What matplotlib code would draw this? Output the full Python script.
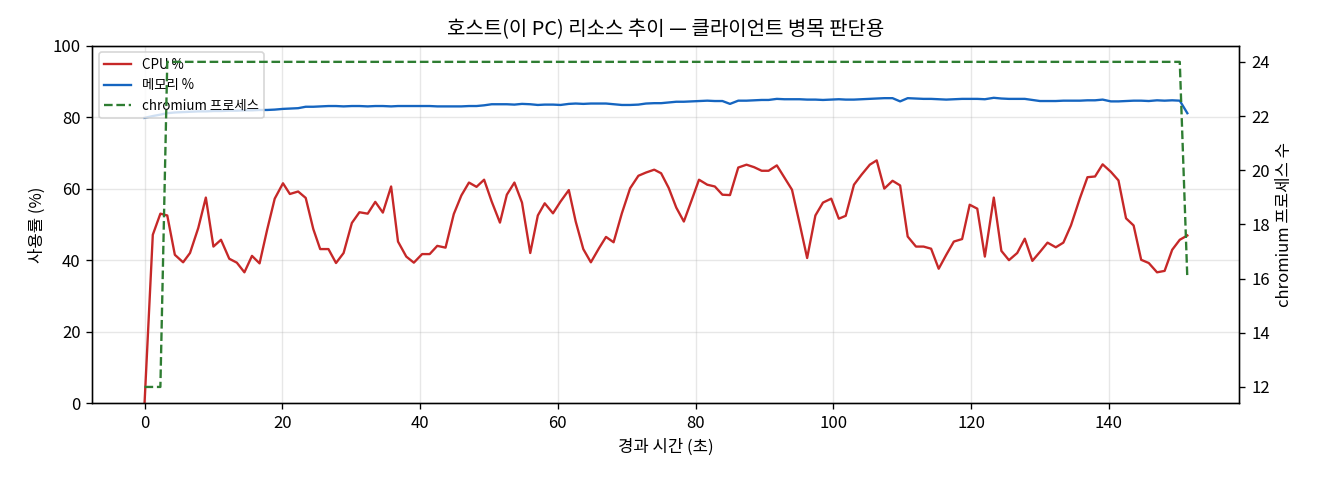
import matplotlib
matplotlib.use("Agg")
import matplotlib.pyplot as plt

plt.rcParams['font.family'] = ['Noto Sans CJK KR', 'DejaVu Sans']
plt.rcParams['axes.unicode_minus'] = False

elapsed_s = [
    0.0, 1.2, 2.3, 3.3, 4.4, 5.6, 6.6, 7.8, 8.9, 10.0,
    11.1, 12.3, 13.4, 14.5, 15.6, 16.7, 17.8, 18.9, 20.1, 21.1,
    22.3, 23.4, 24.5, 25.5, 26.7, 27.8, 28.9, 30.1, 31.2, 32.4,
    33.5, 34.6, 35.8, 36.8, 38.0, 39.1, 40.3, 41.4, 42.5, 43.7,
    44.9, 46.0, 47.1, 48.2, 49.3, 50.4, 51.6, 52.6, 53.7, 54.8,
    56.0, 57.1, 58.1, 59.3, 60.4, 61.6, 62.6, 63.7, 64.8, 66.0,
    67.0, 68.1, 69.3, 70.5, 71.7, 72.8,
    74.0, 75.0, 76.1, 77.2, 78.3, 79.4, 80.5, 81.7, 82.8, 83.9,
    85.0, 86.2, 87.4, 88.5, 89.6, 90.6, 91.8, 92.9, 94.0, 95.1,
    96.2, 97.4, 98.5, 99.7, 100.8, 101.8, 103.0, 104.1, 105.3, 106.3,
    107.4, 108.6, 109.7, 110.8, 112.0, 113.1, 114.2, 115.3, 116.4, 117.5,
    118.7, 119.8, 120.9, 122.0, 123.3, 124.4, 125.5, 126.7, 127.8, 128.9,
    130.0, 131.1, 132.3, 133.4, 134.5, 135.8, 136.9, 138.0, 139.1, 140.3,
    141.4, 142.5, 143.6, 144.7, 145.8, 147.0, 148.1, 149.2, 150.3, 151.4,
]

cpu_pct = [
    0.0, 47.1, 53.0, 52.5, 41.5, 39.4, 42.0, 49.0, 57.5, 43.8,
    45.7, 40.4, 39.3, 36.6, 41.2, 39.1, 48.5, 57.2, 61.5, 58.5,
    59.2, 57.4, 48.7, 43.1, 43.1, 39.2, 42.0, 50.4, 53.4, 53.0,
    56.3, 53.3, 60.6, 45.2, 41.0, 39.3, 41.7, 41.7, 44.0, 43.5,
    52.9, 58.1, 61.7, 60.5, 62.5, 56.4, 50.5, 58.3, 61.7, 56.1,
    42.0, 52.5, 55.9, 53.1, 56.4, 59.6, 50.8, 43.1, 39.4, 43.4,
    46.5, 45.0, 53.1, 60.1, 63.6, 64.5,
    65.3, 64.3, 60.2, 54.7, 50.8, 56.6, 62.5, 61.1, 60.6, 58.3,
    58.2, 65.9, 66.7, 66.0, 65.0, 65.0, 66.5, 63.1, 59.7, 50.3,
    40.6, 52.5, 56.1, 57.2, 51.6, 52.4, 61.1, 63.9, 66.7, 67.9,
    60.0, 62.2, 60.9, 46.6, 43.8, 43.8, 43.2, 37.6, 41.5, 45.2,
    45.9, 55.5, 54.4, 41.0, 57.5, 42.6, 40.0, 42.0, 46.0, 39.8,
    42.3, 44.9, 43.6, 44.9, 49.7, 57.3, 63.2, 63.4, 66.8, 64.7,
    62.3, 51.7, 49.7, 40.1, 39.2, 36.6, 37.0, 42.9, 45.7, 46.9,
]

mem_pct = [
    79.8, 80.3, 80.7, 81.1, 81.3, 81.4, 81.5, 81.6, 81.6, 81.7,
    81.7, 81.8, 81.8, 81.9, 81.9, 82.0, 82.0, 82.1, 82.3, 82.4,
    82.5, 82.9, 82.9, 83.0, 83.1, 83.1, 83.0, 83.1, 83.1, 83.0,
    83.1, 83.1, 83.0, 83.1, 83.1, 83.1, 83.1, 83.1, 83.0, 83.0,
    83.0, 83.0, 83.1, 83.1, 83.3, 83.6, 83.6, 83.6, 83.5, 83.7,
    83.6, 83.4, 83.5, 83.5, 83.4, 83.7, 83.8, 83.7, 83.8, 83.8,
    83.8, 83.6, 83.4, 83.4, 83.5, 83.8,
    83.9, 83.9, 84.1, 84.3, 84.3, 84.4, 84.5, 84.6, 84.5, 84.5,
    83.7, 84.6, 84.6, 84.7, 84.8, 84.8, 85.1, 85.0, 85.0, 85.0,
    84.9, 84.9, 84.8, 84.9, 85.0, 84.9, 84.9, 85.0, 85.1, 85.2,
    85.3, 85.3, 84.4, 85.3, 85.2, 85.1, 85.1, 85.0, 84.9, 85.0,
    85.1, 85.1, 85.1, 85.0, 85.4, 85.2, 85.1, 85.1, 85.1, 84.8,
    84.5, 84.5, 84.5, 84.6, 84.6, 84.6, 84.7, 84.7, 84.9, 84.4,
    84.4, 84.5, 84.6, 84.6, 84.5, 84.7, 84.6, 84.7, 84.6, 81.1,
]

chromium_procs = [
    12, 12, 12, 24, 24, 24, 24, 24, 24, 24,
    24, 24, 24, 24, 24, 24, 24, 24, 24, 24,
    24, 24, 24, 24, 24, 24, 24, 24, 24, 24,
    24, 24, 24, 24, 24, 24, 24, 24, 24, 24,
    24, 24, 24, 24, 24, 24, 24, 24, 24, 24,
    24, 24, 24, 24, 24, 24, 24, 24, 24, 24,
    24, 24, 24, 24, 24, 24,
    24, 24, 24, 24, 24, 24, 24, 24, 24, 24,
    24, 24, 24, 24, 24, 24, 24, 24, 24, 24,
    24, 24, 24, 24, 24, 24, 24, 24, 24, 24,
    24, 24, 24, 24, 24, 24, 24, 24, 24, 24,
    24, 24, 24, 24, 24, 24, 24, 24, 24, 24,
    24, 24, 24, 24, 24, 24, 24, 24, 24, 24,
    24, 24, 24, 24, 24, 24, 24, 24, 24, 16,
]

title = "호스트(이 PC) 리소스 추이 — 클라이언트 병목 판단용"
xlabel = "경과 시간 (초)"
ylabel_left = "사용률 (%)"
ylabel_right = "chromium 프로세스 수"
labels = ["CPU %", "메모리 %", "chromium 프로세스"]

fig, ax = plt.subplots(figsize=(11, 4), dpi=120)
fig.subplots_adjust(left=0.070, right=0.939, top=0.905, bottom=0.160)

l1, = ax.plot(elapsed_s, cpu_pct, color="#c62828", lw=1.4, label=labels[0])
l2, = ax.plot(elapsed_s, mem_pct, color="#1565c0", lw=1.4, label=labels[1])
ax.set_ylim(0, 100)
ax.set_xlabel(xlabel, fontsize=10)
ax.set_ylabel(ylabel_left, fontsize=10)
ax.set_title(title, fontsize=12)
ax.grid(True, alpha=0.3)
ax.tick_params(labelsize=10)

ax2 = ax.twinx()
l3, = ax2.plot(elapsed_s, chromium_procs, color="#2e7d32", lw=1.4, ls="--", label=labels[2])
ax2.set_ylabel(ylabel_right, fontsize=10)
ax2.tick_params(labelsize=10)

ax.legend([l1, l2, l3], labels, loc="upper left", fontsize=8)

fig.savefig("out.png", dpi=120)
